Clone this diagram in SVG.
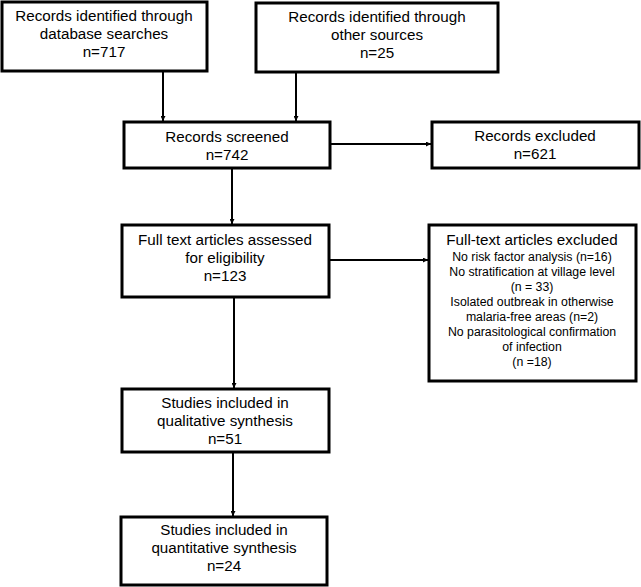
<svg xmlns="http://www.w3.org/2000/svg" width="641" height="587" viewBox="0 0 641 587">
<style>
.box{fill:#fff;stroke:#000;stroke-width:3}
.t{font-family:"Liberation Sans",Arial,sans-serif;font-size:15.2px;text-anchor:middle;fill:#000}
.s{font-family:"Liberation Sans",Arial,sans-serif;font-size:12.3px;text-anchor:middle;fill:#000}
.c{stroke:#000;stroke-width:2;fill:none}
</style>
<defs>
<marker id="ah" viewBox="0 0 10 10" refX="10" refY="5" markerWidth="5" markerHeight="5" orient="auto" markerUnits="userSpaceOnUse">
<path d="M0,0 L10,5 L0,10 z" fill="#000"/>
</marker>
</defs>
<rect width="641" height="587" fill="#fff"/>
<g id="connectors">
<line class="c" x1="163" y1="71" x2="163" y2="121" marker-end="url(#ah)"/>
<line class="c" x1="296" y1="72" x2="296" y2="121" marker-end="url(#ah)"/>
<line class="c" x1="330" y1="144" x2="431" y2="144" marker-end="url(#ah)"/>
<line class="c" x1="232" y1="168" x2="232" y2="224" marker-end="url(#ah)"/>
<line class="c" x1="329" y1="260" x2="428" y2="260" marker-end="url(#ah)"/>
<line class="c" x1="234" y1="297" x2="234" y2="388" marker-end="url(#ah)"/>
<line class="c" x1="233" y1="452" x2="233" y2="516" marker-end="url(#ah)"/>
</g>
<g id="db">
<rect class="box" x="2" y="2" width="205" height="69"/>
<text class="t" x="104" y="21">Records identified through</text>
<text class="t" x="104" y="39">database searches</text>
<text class="t" x="104" y="57">n=717</text>
</g>
<g id="other">
<rect class="box" x="256" y="3" width="242" height="69"/>
<text class="t" x="377" y="22">Records identified through</text>
<text class="t" x="377" y="40">other sources</text>
<text class="t" x="377" y="58">n=25</text>
</g>
<g id="screened">
<rect class="box" x="124" y="122" width="206" height="46"/>
<text class="t" x="227" y="142">Records screened</text>
<text class="t" x="227" y="160">n=742</text>
</g>
<g id="excluded">
<rect class="box" x="432" y="122" width="207" height="46"/>
<text class="t" x="535" y="141">Records excluded</text>
<text class="t" x="535" y="159">n=621</text>
</g>
<g id="fulltext">
<rect class="box" x="122" y="225" width="207" height="72"/>
<text class="t" x="225" y="245">Full text articles assessed</text>
<text class="t" x="225" y="263">for eligibility</text>
<text class="t" x="225" y="281">n=123</text>
</g>
<g id="ftexcluded">
<rect class="box" x="429" y="225" width="207" height="156"/>
<text class="t" x="532" y="245">Full-text articles excluded</text>
<text class="s" x="532" y="261">No risk factor analysis (n=16)</text>
<text class="s" x="532" y="276">No stratification at village level</text>
<text class="s" x="532" y="291">(n = 33)</text>
<text class="s" x="532" y="306">Isolated outbreak in otherwise</text>
<text class="s" x="532" y="321">malaria-free areas (n=2)</text>
<text class="s" x="532" y="336">No parasitological confirmation</text>
<text class="s" x="532" y="351">of infection</text>
<text class="s" x="532" y="366">(n =18)</text>
</g>
<g id="qual">
<rect class="box" x="122" y="389" width="207" height="63"/>
<text class="t" x="225" y="408">Studies included in</text>
<text class="t" x="225" y="426">qualitative synthesis</text>
<text class="t" x="225" y="444">n=51</text>
</g>
<g id="quant">
<rect class="box" x="121" y="517" width="206" height="68"/>
<text class="t" x="224" y="535">Studies included in</text>
<text class="t" x="224" y="553">quantitative synthesis</text>
<text class="t" x="224" y="571">n=24</text>
</g>
</svg>
